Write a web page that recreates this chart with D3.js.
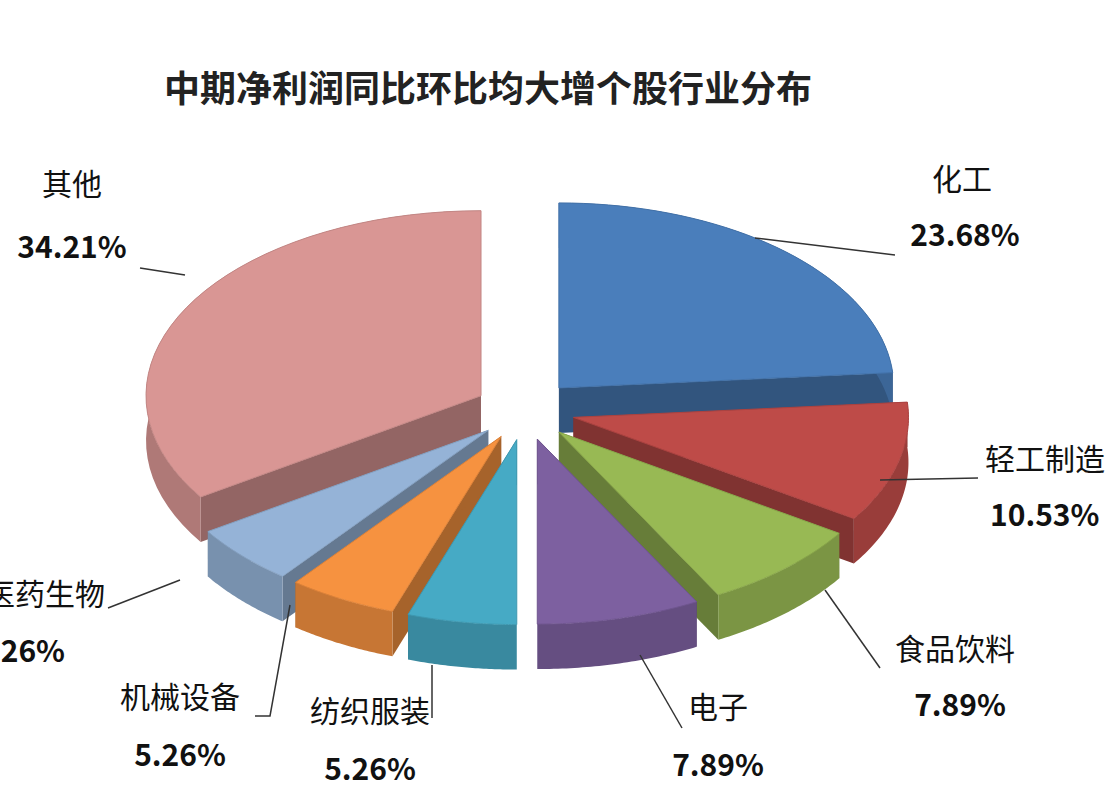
<!DOCTYPE html>
<html><head><meta charset="utf-8">
<script src="https://cdn.jsdelivr.net/npm/d3@7"></script>
<style>body{margin:0;background:#fff}text{font-family:"Noto Sans CJK SC",sans-serif}</style>
</head><body>
<svg id="chart" width="1106" height="799"></svg>
<script>
const names = ['化工', '轻工制造', '食品饮料', '电子', '纺织服装', '机械设备', '医药生物', '其他'];
const shares = [23.68, 10.53, 7.89, 7.89, 5.26, 5.26, 5.26, 34.21];
const colors = ['#4a7ebb', '#be4b48', '#98b954', '#7d60a0', '#46aac5', '#f69240', '#95b3d7', '#d99694'];
// label anchor (name), leader line points
const labelPos = [[962, 190, 'middle'], [985, 470, 'start'], [955, 660, 'middle'], [718, 718, 'middle'],
  [370, 722, 'middle'], [180, 708, 'middle'], [105, 605, 'end'], [72, 195, 'middle']];
const pctPos = [[965, 246, 'middle'], [990, 526, 'start'], [960, 716, 'middle'], [718, 776, 'middle'],
  [370, 780, 'middle'], [180, 766, 'middle'], [65, 662, 'end'], [72, 258, 'middle']];
const leaders = [[[755, 238], [895, 255]], [[880, 480], [978, 478]], [[825, 590], [880, 668]], [[640, 655], [682, 728]],
  [[432, 665], [432, 718]], [[290, 605], [270, 716], [255, 716]], [[180, 580], [108, 608]], [[185, 275], [140, 268]]];

const svg = d3.select('#chart');
const cx = 525, cy = 410, rx = 335, ry = 185, depth = 45, explode = 50;

svg.append('text').attr('x', 488).attr('y', 102).attr('text-anchor', 'middle')
  .attr('font-size', 36).attr('font-weight', 'bold').attr('fill', '#222').text('中期净利润同比环比均大增个股行业分布');

const arcs = d3.pie().sort(null)(shares);
const pt = (a, r, ox, oy, dz) => [cx + ox + r * rx * Math.sin(a), cy + oy - r * ry * Math.cos(a) + dz];

const slices = arcs.map((d, i) => {
  const mid = (d.startAngle + d.endAngle) / 2;
  return { d, i, mid, ox: explode * Math.sin(mid), oy: -explode * 0.6 * Math.cos(mid) };
}).sort((a, b) => -Math.cos(a.mid) - -Math.cos(b.mid));

const arcPts = (s, dz) => d3.range(0, 41).map(k => {
  const a = s.d.startAngle + (s.d.endAngle - s.d.startAngle) * k / 40;
  return pt(a, 1, s.ox, s.oy, dz);
});
const line = d3.line();

slices.forEach(s => {
  const g = svg.append('g');
  const base = d3.color(colors[s.i]);
  const dark = base.darker(1.1), mid = base.darker(0.6);
  const c0 = pt(0, 0, s.ox, s.oy, 0);
  [s.d.startAngle, s.d.endAngle].forEach(a => {
    const p = pt(a, 1, s.ox, s.oy, 0);
    g.append('path').attr('d', line([c0, p, [p[0], p[1] + depth], [c0[0], c0[1] + depth]]) + 'Z')
      .attr('fill', dark);
  });
  const top = arcPts(s, 0), bot = arcPts(s, depth).reverse();
  g.append('path').attr('d', line(top.concat(bot)) + 'Z').attr('fill', mid);
  g.append('path').attr('d', line([c0].concat(top)) + 'Z').attr('fill', base)
    .attr('stroke', base.darker(0.3)).attr('stroke-width', 1);
});

leaders.forEach(pts => svg.append('path').attr('d', line(pts)).attr('fill', 'none')
  .attr('stroke', '#333').attr('stroke-width', 1.5));

names.forEach((n, i) => {
  svg.append('text').attr('x', labelPos[i][0]).attr('y', labelPos[i][1]).attr('text-anchor', labelPos[i][2])
    .attr('font-size', 30).attr('fill', '#111').text(n);
  svg.append('text').attr('x', pctPos[i][0]).attr('y', pctPos[i][1]).attr('text-anchor', pctPos[i][2])
    .attr('font-size', 30).attr('font-weight', 'bold').attr('fill', '#111').text(shares[i].toFixed(2) + '%');
});
</script>
</body></html>
